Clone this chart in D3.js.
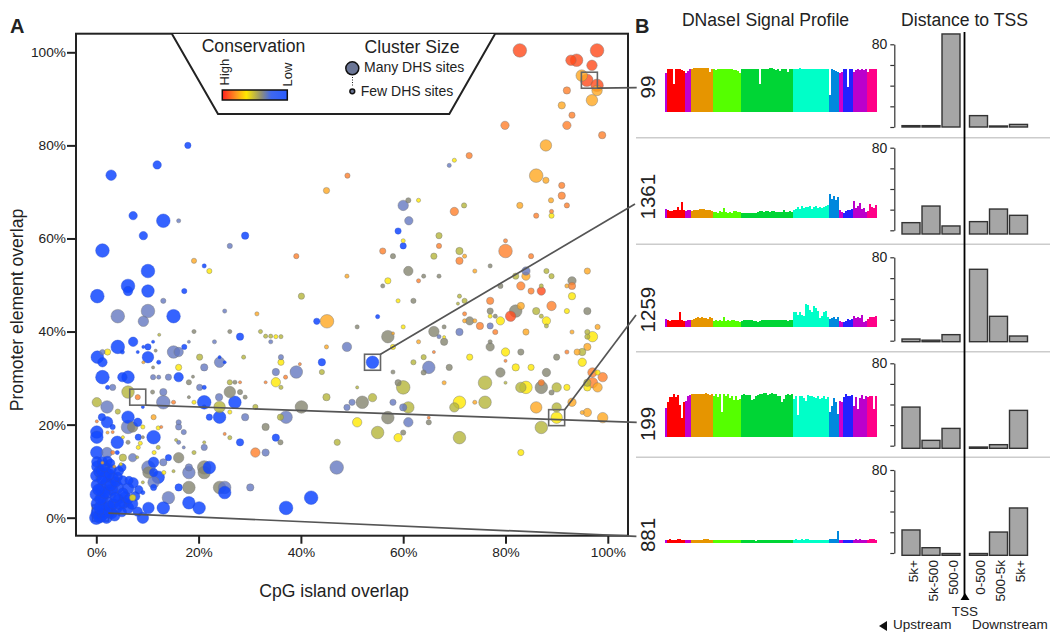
<!DOCTYPE html>
<html>
<head>
<meta charset="utf-8">
<style>
  body { margin: 0; background: #fff; }
  text { font-family: "Liberation Sans", Arial, sans-serif; fill: #222; }
</style>
</head>
<body>
<svg width="1050" height="632"></svg>
<script src="https://d3js.org/d3.v7.min.js"></script>
<script>

// panel A, one array per conservation class: [CpG %, promoter %, cluster size]
var scarlet = [[82.8,100.4,13],[97.9,100.4,13],[93.9,98.3,12],[92.8,98.3,10],[96.9,97.2,10],[95.9,94,12],[97.9,92.9,12],[87,48.7,8],[81,43.3,10]];
var orange = [[92,91.8,7],[93,86.5,6],[92,84.3,8],[79.9,84.3,8],[98.9,82.2,7],[91,71.4,6],[91,69.2,7],[92,67.1,5],[72.9,77.8,6],[49.1,73.5,5],[70,65.8,8],[86,64.9,5],[89,65.8,4],[67,58.4,5],[56,57.3,6],[71,55.2,7],[80,59.5,4],[80,57.3,13],[85,56.2,5],[83,49.8,8],[85,48.7,6],[93,49.8,7],[63,50.9,4],[77,46.6,7],[89,45.5,9],[72,43.8,4],[75,41.2,7],[78,39.9,5],[92,35.6,4],[66,35.6,3],[80,33.7,3],[97,31.2,9],[99,30.2,9],[97,29,10],[87,29,6],[65,21.5,3],[39.1,56.2,5],[37,30.2,4],[28.1,29.1,3],[33.1,29.1,3],[39.8,33,3],[15.1,24.8,4],[8.1,25.9,5],[25.1,18,3],[12.7,19.5,3],[0.1,20.7,3],[31.1,14,9],[3.2,18.4,3],[3.2,14,4]];
var amber = [[94.9,95,11],[97.9,91.8,10],[96.9,89.7,11],[91,88.6,7],[87.9,80,11],[86,73.5,13],[87.9,72.5,6],[88.9,68.2,5],[82.8,67.1,6],[45,70.3,6],[72,56.2,4],[74,53,4],[49,51.9,4],[84,51.9,8],[92,49.8,4],[83,45.5,7],[72,42.3,4],[74,42.3,4],[58,39.6,3],[63,37.8,4],[84,39.9,6],[93,39.9,4],[98,41,5],[96,36.7,7],[94,35.6,6],[68,29,4],[98,28,9],[74,24.8,4],[86,23.7,11],[93,24.8,8],[95,22.6,4],[96,22.6,8],[99,21.5,10],[19.1,55.2,5],[31.4,43.8,4],[45.1,42.2,13],[45,36.7,4],[9.2,33.4,3],[11.2,21.6,5],[2.2,18.3,3],[1.2,11.8,3],[3.5,11,3],[96,53,6]];
var yellow = [[70,76.8,4],[63,68.2,4],[89,64.9,5],[60,59.5,4],[57,50.9,6],[93,47.6,7],[59,46.6,4],[77,43.3,4],[92,44.4,5],[88,42.3,8],[79,42.3,8],[60,41,4],[68,38.8,3],[58,36.7,5],[97,38.9,10],[80,35.6,8],[73,34.5,6],[95,33.4,8],[82,32.3,7],[85,32.3,6],[98,31.2,5],[96,28,7],[84,28,12],[92,28,6],[71,24.8,12],[90,21.5,11],[51,20.5,9],[59,17.2,8],[83,14,6],[22.1,53,5],[2.2,35.6,6],[16.1,32.3,6],[36.1,33.4,6],[35.1,29.1,9],[19.1,24.8,4],[26.1,22.7,4],[9.1,19.5,4],[12.1,19.3,4],[5.2,17.3,3],[8.2,15.1,4],[8.6,16,4],[11.3,14,4],[13.2,9.7,4],[35.1,38.9,4],[4.8,11.5,3],[7.1,4.3,6]];
var olive = [[71.9,67.1,5],[67,60.6,6],[66,56.2,6],[71,57.3,7],[87,49.8,4],[71,47.6,4],[70.7,46,3],[72,46.6,5],[88,53,5],[89,51.9,5],[82,51.9,6],[86,44.4,7],[87,43.3,4],[88,41.2,4],[96,39.9,5],[96,38.9,5],[95,35.6,7],[64,34.5,5],[62,33.4,5],[96,29,7],[60,28,13],[76,29,13],[83,28,10],[90,28,9],[54,25.8,8],[61,23.7,11],[70,23.7,9],[76,24.8,12],[90,23.7,9],[87,19.4,12],[55,18.3,12],[71,17.2,12],[51,28,3],[80,29,3],[12.3,39.3,3],[32.1,40,4],[33.1,39,4],[34.1,39,4],[36.1,38.9,4],[20.2,34.5,6],[28.8,34.5,4],[44.1,31.3,5],[40.1,47.6,6],[26.1,29.1,5],[36.1,28,4],[6.2,27,12],[0.1,24.8,9],[4.2,22.8,5],[24.1,23.8,11],[31.1,23.8,5],[45,25.9,7],[36,21.6,6],[47.1,16.2,6],[26.1,17.2,4],[15.6,16.7,3],[21.1,16.2,3],[19.1,14,4],[12.1,15.1,4],[5.2,12.9,7],[15.1,10,3],[9.1,7.6,3],[8,13,3]];
var grey = [[61,68.2,5],[58,56.2,5],[61,53,9],[67,51.9,4],[64,51.9,4],[77,54.1,4],[56,49.8,4],[79,49.8,5],[93,50.9,8],[62,46.6,5],[82,44.4,12],[77,44.4,6],[78,43.3,4],[73,42.3,8],[66,40,10],[51,41,4],[68,41,4],[57,38.9,12],[68,37.8,7],[77,37.8,4],[77,36.7,8],[83,35.6,6],[90,34.5,6],[96,44.4,7],[69,32.3,6],[64,31.2,5],[58,31.3,4],[79,31.2,9],[88,31.2,8],[59,29,6],[87,28,12],[89,26.9,5],[52,24.8,12],[57,21.5,12],[65,20.5,5],[60,18.3,5],[19.1,40,4],[26.1,40,4],[11.6,35.9,3],[11.1,32.3,3],[18.9,30.3,3],[18.1,29.1,5],[27.1,29.1,4],[18.1,25.9,3],[11,27,4],[26.1,27,11],[28.1,27,5],[29.1,25.9,4],[40.1,23.8,12],[33.1,19.5,7],[36,16.2,5],[6.2,16.2,4],[9.1,17.3,3],[21.1,10.8,13],[10.2,9.7,11],[24.1,6.5,12],[18.1,6.5,12],[21.1,9.7,12],[16.1,12.9,10],[7.1,19.5,10]];
var slate = [[84,53,8],[60,67.1,10],[69,75.7,4],[61.1,63.8,8],[77,41.2,6],[71,39.9,7],[67,38.9,4],[49,36.7,9],[65,32.3,12],[50,24.8,6],[49,23.7,6],[58,24.8,6],[60,23.7,7],[61,20.5,9],[16.1,63.8,4],[26.1,58.4,5],[13.1,46.6,5],[10.1,44.4,13],[4.2,43.3,13],[9.2,42.2,10],[25.1,44.4,4],[18.1,37.8,3],[23.1,37.8,4],[34.1,37.8,4],[15.1,35.6,12],[16.1,35.6,9],[1.2,35.6,5],[36.1,34.5,5],[24.1,33.4,10],[21.1,32.3,7],[35.1,31.3,7],[39.1,31.3,12],[3.2,28,6],[11.1,30.2,5],[12.2,30.2,4],[14.1,30.2,6],[20.2,28,6],[13.1,27,7],[13.1,24.8,13],[24,25.9,7],[2.1,23.8,12],[29.1,21.6,7],[37.1,21.6,12],[6.2,19.5,13],[16.1,20.5,5],[16.1,19.5,6],[17.1,18.4,5],[16.1,16.2,4],[17.1,15.1,3],[21.1,15.1,6],[33.1,14,7],[13.1,11.9,7],[10.2,10.8,13],[18.1,10.8,7],[18.1,9.7,12],[47,10.8,13],[11.2,7.6,11],[30.1,6.5,7],[25.1,6.5,12],[14.1,4.3,12],[7.1,12.9,8],[2.1,14,10]];
var blue = [[2.9,73.6,10],[11.9,75.8,8],[17.9,80,6],[7.2,64.9,8],[13.1,63.8,13],[9.2,60.6,8],[1.2,57.4,13],[29.1,60.6,7],[21.1,54.1,4],[10.1,53,13],[6.2,49.8,13],[6.2,48.7,9],[10.1,48.7,12],[0.2,47.6,13],[17.2,48.7,5],[15.1,43.3,13],[43.1,42.2,6],[28.1,38.9,7],[7.2,37.8,9],[4.2,36.7,13],[11.1,37.8,3],[9.2,36.7,3],[10.1,36.7,6],[17.2,36.7,5],[5.1,35.6,4],[8.1,35.6,3],[0.2,34.5,12],[10.1,34.5,11],[1.2,33.4,9],[24.1,34.5,3],[25.1,33.4,3],[44.1,33.4,7],[12.2,33.4,4],[1.2,30.2,13],[6.2,30.2,12],[5.1,30.2,9],[16.1,30.2,9],[2.2,28,4],[21.1,28,4],[21.1,24.8,13],[27.1,24.8,12],[21.1,23.8,4],[9.1,23.8,3],[22.1,21.6,6],[24.1,21.6,12],[6.2,21.6,12],[1.1,21.6,7],[2.1,20.5,11],[8.1,20.5,8],[0.1,18.4,12],[3.2,19.5,5],[0.1,17.3,12],[11.2,17.3,13],[8.2,17.3,6],[35.1,17.2,7],[28.1,16.2,7],[4.1,16.2,12],[0.1,14,12],[4.1,14,4],[14.1,12.9,6],[11.2,11.9,10],[22.1,10.8,12],[12.1,8.7,12],[11.2,9.7,8],[11.2,6.5,6],[16.1,6.5,7],[25.1,5.4,12],[9.1,5.4,4],[42,4.3,13],[18.1,3.2,12],[20.1,2.1,12],[13.1,2.1,12],[37.1,2.1,13],[54,33.4,12],[59,61.6,6],[60,58.4,6],[55,43.2,4],
  [0,0,13],[0.3,1,13],[1,0.5,12],[2,0,11],[0.2,3,12],[1.5,2,12],[3,1,11],[4,2,10],[5,1.2,9],[6.2,2.1,11],[8.1,1.3,9],[9.1,0,11],[10.2,2.1,11],[0,5,12],[1.2,4.3,11],[2.2,3.2,12],[3.3,3,10],[4.3,4,10],[5.3,3.2,11],[6.3,4,9],[0.1,7,11],[1,6.2,12],[2.1,5.4,11],[3.1,6,11],[4.1,6.5,12],[5.2,5.3,10],[6.2,6.3,11],[7.2,7.5,10],[0,9,11],[1.1,8.2,10],[2.1,7.4,12],[3.2,8.6,11],[4.2,8.8,9],[5.2,8,9],[0.2,11,11],[1,10,10],[2,9.6,11],[3,10.4,9],[0.1,12,10],[1.2,12,10],[2.8,11.7,8],[5,10.8,8],
  [0.6,0.2,12],[1.4,1.1,12],[2.5,1.2,11],[3.6,0.4,10],[0.7,2.1,12],[2.6,2.4,11],[4.6,2.8,10],[7,3,11],[0.8,4,11],[3.7,4.4,10],[5.6,4.4,11],[7.6,4.6,9],[1.6,5.4,11],[2.8,7,11],[0.4,6,11],[3.8,7.7,10],[1.7,8.8,11],[0.6,9.9,11],[2.6,9.4,10],[4.4,10,9],[1.6,11,10],[2.2,12.2,9],[6.4,8,8],[8.3,6,8]];
// clusters that sit underneath the dense blue corner
var oliveCorner = [[0.5,4.3,5],[0.6,6.5,5],[0.4,8.6,5],[1.2,7.5,4],[0.5,10.8,4],[0.5,2.2,5],[1.8,5.2,4],[3.5,2,4],[2.2,2,5]];
var greyCorner = [[1.3,3.2,6],[2.4,6.5,5],[1.3,9.6,5],[2.2,11,5],[3.3,4.8,5],[4,7.5,4],[1,1.2,7],[6,3,6]];

var conservationClasses = [scarlet, orange, amber, yellow, olive, grey, slate, blue];
var conservationColors = ["#ff4a1a", "#ff7f2a", "#ffa820", "#ffe800", "#b5b53a", "#85856f", "#6478c0", "#1248ff"];

// picked clusters and the row each one leads to: [CpG %, promoter %]
var pickedPoints = [[96.4, 94], [54, 33.4], [90, 21.5], [8.1, 25.9], [0.8, 1]];

// panel B
var clusterIds = ["99", "1361", "1259", "199", "881"];
var tissueCounts = [1, 9, 3, 11, 14, 26, 18, 5, 2, 5, 7, 5];
var tissueColors = ["#b400e0", "#ff0000", "#c000d0", "#e69500", "#55ff00", "#00d535", "#00ffc8", "#0088dd", "#cc00cc", "#2222ff", "#bb00cc", "#ff0088"];

var profile99 = [88, 96,98,97,62,98,97,98,95,92, 88,92,96, 98,99,99,99,99,99,99,99,99,90,97, 98,95,97,96,97,96,96,97,96,96,95,95,92,88, 97,98,98,97,98,97,98,98,98,62,97,98,98,98,99,99,98,94,96,93,96,96,98,90,98,97, 98,98,98,99,98,98,98,98,98,98,98,98,98,98,98,98,98,98, 36,96,94,92,90, 88,90, 97,96,55,97,96, 90,95,96,95,96,95,96, 91,98,97,97,98];
var profile1361 = [20, 18,15,14,17,16,25,18,35,16, 14,18,18, 14,16,17,18,19,19,20,18,17,18,15, 12,12,11,14,12,22,12,11,13,11,15,14,13,12, 10,11,11,11,10,10,9,11,13,14,15,12,14,14,13,15,14,13,12,13,12,18,13,12,14,13, 17,20,23,20,27,22,25,23,27,20,24,26,22,24,22,24,27,28, 55,42,50,40,47, 18,12, 10,14,16,18,20, 37,22,26,34,20,22,12, 14,32,24,22,28];
var profile1259 = [17, 15,12,14,13,14,13,32,14,12, 12,15,15, 14,16,18,20,19,21,18,19,17,20,18, 12,13,12,14,12,20,12,13,12,14,13,12,11,10, 12,14,14,13,15,13,12,11,10,12,14,13,15,14,13,15,14,13,15,14,14,13,15,12,14,13, 33,32,26,33,26,24,52,50,38,32,46,42,34,18,24,33,34,20, 16,18,20,16,21, 12,10, 9,12,17,15,16, 23,18,22,19,25,10,12, 16,20,22,20,24];
var profile199 = [65, 80,90,90,97,90,95,72,43,80, 82,92,96, 97,97,98,97,98,98,97,99,98,96,98, 93,97,90,97,55,97,92,97,88,92,84,92,84,85, 95,98,96,96,95,84,85,93,95,98,97,99,99,96,98,99,97,98,94,92,80,85,95,97,96,98, 85,92,50,94,92,88,82,96,92,92,90,88,94,85,88,92,86,90, 55,70,88,80,52, 82,80, 90,98,93,92,95, 70,90,62,88,96,85,92, 90,92,92,62,92];
var profile881 = [3, 5,6,5,4,5,6,7,5,4, 4,3,4, 3,4,4,5,5,5,6,7,6,4,3, 4,4,3,3,3,4,3,3,3,3,4,4,3,3, 3,3,4,5,4,3,3,2,3,3,4,5,4,5,4,4,3,4,3,3,4,3,3,3,4,4, 5,6,5,5,6,5,7,6,5,5,4,5,4,4,5,5,5,5, 7,7,7,6,24, 5,3, 3,3,4,3,4, 4,6,5,7,5,4,3, 4,6,6,7,5];
var profiles = [profile99, profile1361, profile1259, profile199, profile881];

var upstreamBins = ["5k+", "5k-500", "500-0"];
var downstreamBins = ["0-500", "500-5k", "5k+ "];
var tss99 = [1.3, 1.3, 90, 11, 0.5, 2.5];
var tss1361 = [7.4, 23.5, 4.2, 8.4, 20.6, 14.5];
var tss1259 = [1.6, 0.5, 5.8, 68.5, 23.4, 4.5];
var tss199 = [37.5, 5.2, 16.8, -1.3, 1, 34.3];
var tss881 = [22.2, 5.1, -0.5, -0.5, 20.2, 43.4];
var tssValues = [tss99, tss1361, tss1259, tss199, tss881];

var svg = d3.select("svg");

// ---------- panel A ----------
var x = d3.scaleLinear().domain([0, 100]).range([96.3, 607.8]);
var y = d3.scaleLinear().domain([0, 100]).range([517.7, 52.3]);
var r = d3.scaleLinear().domain([0, 13]).range([0, 6.8]);
var pct = function(d) { return d + "%"; };
var blueColor = conservationColors[7];

function toPoints(rows, color) {
  return rows.map(function(p) { return {cpg: p[0], promoter: p[1], size: p[2], color: color}; });
}
var allPoints = [];
conservationClasses.forEach(function(rows, i) { allPoints = allPoints.concat(toPoints(rows, conservationColors[i])); });
allPoints.sort(function(a, b) { return b.size - a.size; });
allPoints = toPoints(oliveCorner, conservationColors[4]).concat(toPoints(greyCorner, conservationColors[5]), allPoints);

// the corner box is hidden by the dots, so it goes in first
var corner = pickedPoints[4];
svg.append("rect").attr("x", x(corner[0]) - 8).attr("y", y(corner[1]) - 8).attr("width", 16).attr("height", 16)
  .attr("fill", "none").attr("stroke", "#666").attr("stroke-width", 1.6);

svg.append("g").selectAll("circle")
  .data(allPoints)
  .join("circle")
    .attr("cx", function(d) { return x(d.cpg); })
    .attr("cy", function(d) { return y(d.promoter); })
    .attr("r", function(d) { return r(d.size); })
    .attr("fill", function(d) { return d.color; })
    .attr("fill-opacity", function(d) { return d.color === blueColor ? 0.85 : 0.8; })
    .attr("stroke", function(d) { return d.color === blueColor ? "#2a4fd0" : "#777"; })
    .attr("stroke-opacity", 0.55)
    .attr("stroke-width", 0.8);

// frame and legend cut-out
svg.append("rect").attr("x", 76).attr("y", 33.7).attr("width", 552).attr("height", 502)
  .attr("fill", "none").attr("stroke", "#222").attr("stroke-width", 2);
svg.append("path").attr("d", "M172,34L218,114H449.3L495,34")
  .attr("fill", "#fff").attr("stroke", "#222").attr("stroke-width", 2);

var xAxis = svg.append("g").attr("transform", "translate(0,535.7)")
  .call(d3.axisBottom(x).tickValues([0, 20, 40, 60, 80, 100]).tickFormat(pct).tickSize(8).tickPadding(4));
var yAxis = svg.append("g").attr("transform", "translate(76,0)")
  .call(d3.axisLeft(y).tickValues([0, 20, 40, 60, 80, 100]).tickFormat(pct).tickSize(9).tickPadding(1));
[xAxis, yAxis].forEach(function(a) {
  a.select(".domain").remove();
  a.selectAll("line").attr("stroke", "#222").attr("stroke-width", 2);
  a.selectAll("text").attr("font-size", 13.7).attr("font-family", "Liberation Sans").attr("fill", "#333");
});

svg.append("text").attr("x", 334).attr("y", 597).attr("text-anchor", "middle").attr("font-size", 17.6).text("CpG island overlap");
svg.append("text").attr("transform", "translate(23,310) rotate(-90)").attr("text-anchor", "middle").attr("font-size", 17.6).text("Promoter element overlap");
svg.append("text").attr("x", 10).attr("y", 33).attr("font-size", 20).attr("font-weight", "bold").attr("fill", "#000").text("A");
svg.append("text").attr("x", 635).attr("y", 33).attr("font-size", 20).attr("font-weight", "bold").attr("fill", "#000").text("B");

// legend
var grad = svg.append("defs").append("linearGradient").attr("id", "cons");
[[0, "#ff2020"], [0.22, "#ff9a20"], [0.37, "#ffe800"], [0.6, "#8f8f78"], [0.75, "#3f68f0"], [1, "#2a5cff"]].forEach(function(s) {
  grad.append("stop").attr("offset", s[0]).attr("stop-color", s[1]);
});
svg.append("text").attr("x", 253.5).attr("y", 52).attr("text-anchor", "middle").attr("font-size", 17.6).text("Conservation");
svg.append("text").attr("x", 412).attr("y", 52.7).attr("text-anchor", "middle").attr("font-size", 17.6).text("Cluster Size");
svg.append("text").attr("transform", "translate(228.5,85.5) rotate(-90)").attr("font-size", 13).text("High");
svg.append("text").attr("transform", "translate(291.5,86.5) rotate(-90)").attr("font-size", 13).text("Low");
svg.append("rect").attr("x", 222.3).attr("y", 90).attr("width", 65).attr("height", 10)
  .attr("fill", "url(#cons)").attr("stroke", "#111").attr("stroke-width", 1.5);
svg.append("circle").attr("cx", 352.3).attr("cy", 68.3).attr("r", 6.5).attr("fill", "#6b7696").attr("stroke", "#111").attr("stroke-width", 1.5);
svg.append("line").attr("x1", 352.5).attr("x2", 352.5).attr("y1", 77).attr("y2", 87).attr("stroke", "#222").attr("stroke-dasharray", "1,1.5");
svg.append("circle").attr("cx", 352.3).attr("cy", 91.3).attr("r", 2.4).attr("fill", "#6b7696").attr("stroke", "#111").attr("stroke-width", 1.5);
svg.append("text").attr("x", 364).attr("y", 72).attr("font-size", 14).text("Many DHS sites");
svg.append("text").attr("x", 360.7).attr("y", 95.7).attr("font-size", 14).text("Few DHS sites");

// ---------- panel B ----------
svg.append("text").attr("x", 765.5).attr("y", 26).attr("text-anchor", "middle").attr("font-size", 17.6).text("DNaseI Signal Profile");
svg.append("text").attr("x", 964.5).attr("y", 26).attr("text-anchor", "middle").attr("font-size", 17.6).text("Distance to TSS");

var profileBase = [110.7, 217.3, 326, 436, 541.7];
var labelMid = [87, 196.7, 309.6, 424, 535];
var axisTop = [44.3, 147.7, 257.3, 363.3, 470];
var axisBottom = [127, 230.3, 340.7, 445.7, 553];
var barBase = [127, 234, 341.7, 448.3, 555.3];
var separators = [137.7, 244.3, 351.7, 457.3];

var tissueOfColumn = [];
tissueCounts.forEach(function(n, i) { d3.range(n).forEach(function() { tissueOfColumn.push(i); }); });

var col = d3.scaleBand().domain(d3.range(tissueOfColumn.length)).range([664.5, 876.5]);
var upX = d3.scaleBand().domain(upstreamBins).range([901, 961]).paddingInner(0.1).paddingOuter(0.05);
var downX = d3.scaleBand().domain(downstreamBins).range([968.5, 1028.5]).paddingInner(0.1).paddingOuter(0.05);
var binX = function(i) {
  return i < 3 ? upX(upstreamBins[i]) : downX(downstreamBins[i - 3]);
};

svg.append("g").selectAll("line")
  .data(separators)
  .join("line")
    .attr("x1", 636).attr("x2", 1050)
    .attr("y1", function(d) { return d; }).attr("y2", function(d) { return d; })
    .attr("stroke", "#ccc").attr("stroke-width", 1.5);

clusterIds.forEach(function(id, row) {
  var g = svg.append("g");
  var h = d3.scaleLinear().domain([0, 100]).range([profileBase[row], profileBase[row] - 43]);

  g.append("text").attr("transform", "translate(655," + labelMid[row] + ") rotate(-90)")
    .attr("text-anchor", "middle").attr("font-size", 20.5).text(id);

  g.append("g").attr("shape-rendering", "crispEdges").selectAll("rect")
    .data(profiles[row])
    .join("rect")
      .attr("x", function(d, i) { return col(i); })
      .attr("width", col.bandwidth() + 0.5)
      .attr("y", function(d) { return h(d); })
      .attr("height", function(d) { return h(0) - h(d) + 1; })
      .attr("fill", function(d, i) { return tissueColors[tissueOfColumn[i]]; });

  var v = d3.scaleLinear().domain([0, 80]).range([axisBottom[row], axisTop[row]]);
  var ax = g.append("g").attr("transform", "translate(894.3,0)")
    .call(d3.axisLeft(v).tickValues([0, 20, 40, 60, 80]).tickFormat(function(d) { return d === 80 ? "80" : ""; }).tickSize(4).tickSizeOuter(0).tickPadding(3));
  ax.select(".domain").attr("stroke", "#333").attr("stroke-width", 1.2);
  ax.selectAll("line").attr("stroke", "#333").attr("stroke-width", 1.2);
  ax.selectAll("text").attr("font-size", 14).attr("font-family", "Liberation Sans").attr("fill", "#444");

  g.append("g").selectAll("rect")
    .data(tssValues[row])
    .join("rect")
      .attr("x", function(d, i) { return binX(i); })
      .attr("width", upX.bandwidth())
      .attr("y", function(d) { return Math.min(v(d), barBase[row] - 1); })
      .attr("height", function(d) { return Math.max(barBase[row] - v(d), 1); })
      .attr("fill", "#a6a6a6")
      .attr("stroke", "#333")
      .attr("stroke-width", 1.4);
});

// bin labels below the last row
upstreamBins.concat(downstreamBins).forEach(function(b, i) {
  svg.append("text")
    .attr("transform", "translate(" + (binX(i) + upX.bandwidth() / 2 + 6.5) + ",560) rotate(-90)")
    .attr("text-anchor", "end").attr("font-size", 13.6).attr("fill", "#333").text(b.trim());
});

// TSS line and direction labels
svg.append("line").attr("x1", 964.5).attr("x2", 964.5).attr("y1", 32).attr("y2", 596).attr("stroke", "#000").attr("stroke-width", 1.8);
svg.append("path").attr("d", "M965,593L969.5,600H960.5Z").attr("fill", "#000");
svg.append("text").attr("x", 965).attr("y", 616).attr("text-anchor", "middle").attr("font-size", 13.5).text("TSS");
svg.append("path").attr("d", "M879,626L887,621V631Z").attr("fill", "#111");
svg.append("text").attr("x", 893).attr("y", 629).attr("font-size", 13.5).text("Upstream");
svg.append("text").attr("x", 972).attr("y", 629).attr("font-size", 13.5).text("Downstream");

// selection boxes and connector lines
var connectorEnds = [[636.7, 87.7], [635, 204], [636, 315], [636.7, 422.3], [636.4, 536.4]];
var boxCorner = [[1, 1], [1, -1], [1, -1], [1, 1], [1, 0]];
pickedPoints.forEach(function(p, i) {
  var cx = x(p[0]), cy = y(p[1]);
  if (i < 4) {
    svg.append("rect").attr("x", cx - 8).attr("y", cy - 8).attr("width", 16).attr("height", 16)
      .attr("fill", "none").attr("stroke", "#666").attr("stroke-width", 1.6);
  }
  svg.append("line")
    .attr("x1", cx + 8 * boxCorner[i][0]).attr("y1", cy + 8 * boxCorner[i][1])
    .attr("x2", connectorEnds[i][0]).attr("y2", connectorEnds[i][1])
    .attr("stroke", "#555").attr("stroke-width", 1.7);
});

</script>
</body>
</html>
